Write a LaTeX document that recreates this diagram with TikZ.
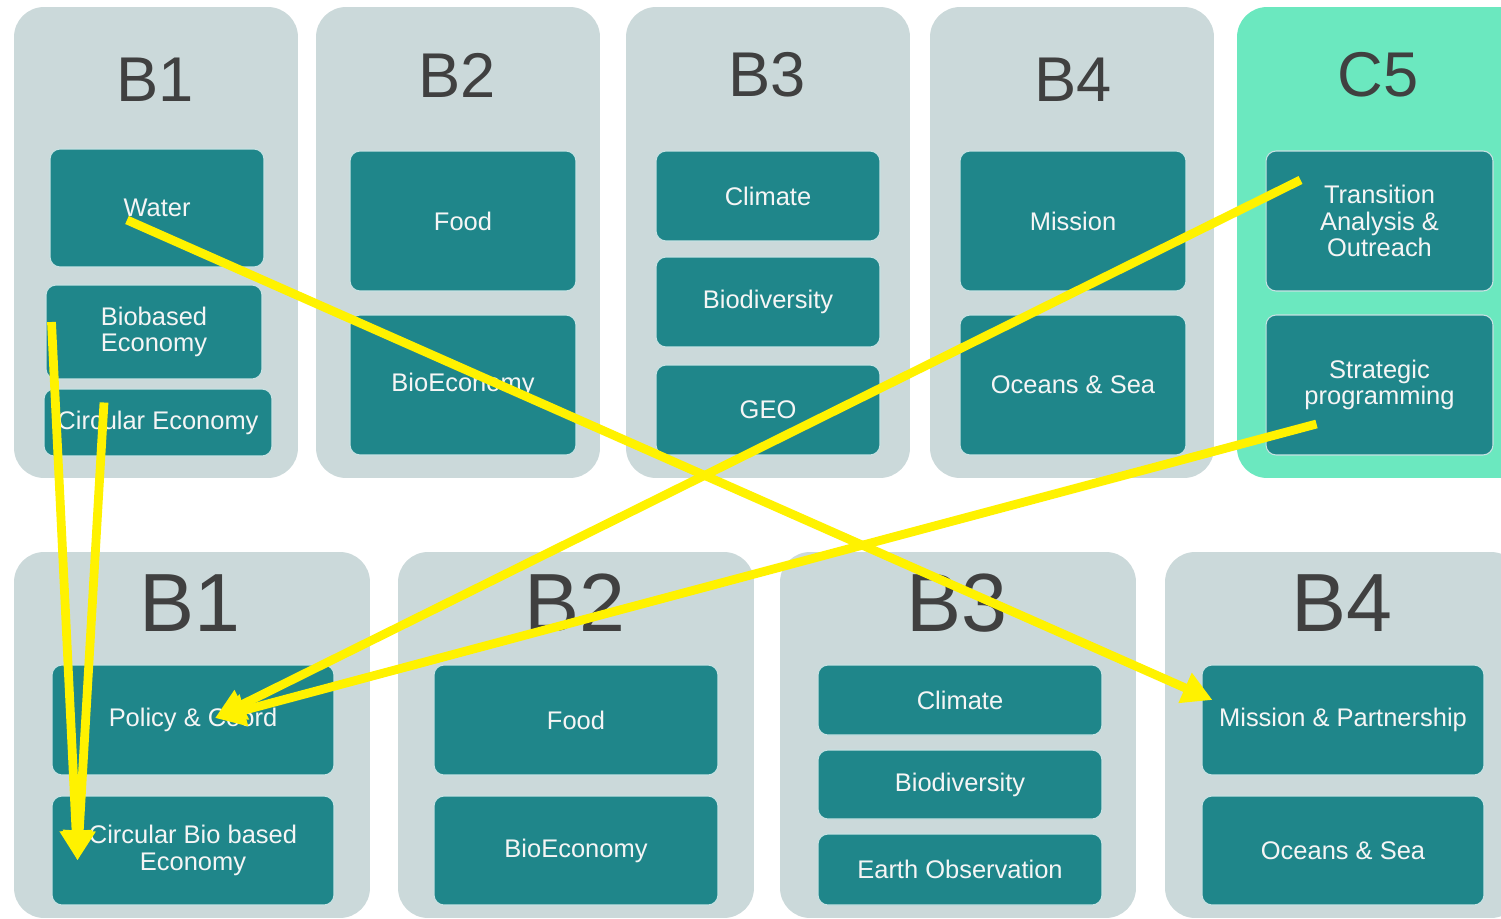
\documentclass[tikz,border=0pt]{standalone}
\usepackage{fontspec}
\setmainfont{Liberation Sans}
\usetikzlibrary{arrows.meta,calc}
\definecolor{panelgray}{HTML}{CBD9DA}
\definecolor{panelgreen}{HTML}{6BE8BF}
\definecolor{boxteal}{HTML}{1F868A}
\definecolor{titlegray}{HTML}{404040}

\begin{document}
\begin{tikzpicture}[x=0.02cm, y=-0.02cm,
  panel/.style={fill=panelgray, rounded corners=0.6cm, inner sep=0pt},
  toppanel/.style={panel, minimum width=5.68cm, minimum height=9.42cm},
  lowpanel/.style={panel, minimum width=7.12cm, minimum height=7.32cm},
  title/.style={text=titlegray, inner sep=0pt, font=\fontsize{36}{36}\selectfont},
  bigtitle/.style={title, font=\fontsize{47}{47}\selectfont},
  box/.style={fill=boxteal, draw=white!75!boxteal, line width=0.6pt,
    rounded corners=0.2cm, text=white!96!black, align=center, inner sep=0pt,
    font=\fontsize{14.5}{15}\selectfont},
  wide/.style={box, minimum width=4.52cm},
  flow/.style={draw=yellow, line width=5pt,
    -{Triangle[length=0.6cm, width=0.62cm]}}
]
\clip (0,0) rectangle (1501,919);
\fill[white] (0,0) rectangle (1501,919);

% upper row
\node[toppanel] (P1) at (156,242.5) {};
\node[toppanel] (P2) at (458,242.5) {};
\node[toppanel] (P3) at (768,242.5) {};
\node[toppanel] (P4) at (1072,242.5) {};
\node[toppanel, fill=panelgreen, minimum width=5.86cm] (P5) at (1383.5,242.5) {};
\node[title] (T1) at (155,80) {B1};
\node[title] (T2) at (457,75) {B2};
\node[title] (T3) at (767,75) {B3};
\node[title] (T4) at (1073,80) {B4};
\node[title] (T5) at (1378,75) {C5};

\node[box, minimum width=4.28cm, minimum height=2.36cm] (water) at (157,208) {Water};
\node[box, minimum width=4.32cm, minimum height=1.88cm] (biobased) at (154,332) {Biobased\\Economy};
\node[box, minimum width=4.56cm, minimum height=1.34cm] (circular) at (158,422.5) {Circular Economy};
\node[wide, minimum height=2.8cm] (food) at (463,221) {Food};
\node[wide, minimum height=2.8cm] (bioeco) at (463,385) {BioEconomy};
\node[box, minimum width=4.48cm, minimum height=1.8cm] (climate) at (768,196) {Climate};
\node[box, minimum width=4.48cm, minimum height=1.8cm] (biodiv) at (768,302) {Biodiversity};
\node[box, minimum width=4.48cm, minimum height=1.8cm] (geo) at (768,410) {GEO};
\node[wide, minimum height=2.8cm] (mission) at (1073,221) {Mission};
\node[wide, minimum height=2.8cm] (oceans) at (1073,385) {Oceans \& Sea};
\node[wide, minimum width=4.54cm, minimum height=2.8cm] (transition) at (1379.5,221) {Transition\\Analysis \&\\Outreach};
\node[wide, minimum width=4.54cm, minimum height=2.8cm] (strategic) at (1379.5,385) {Strategic\\programming};

% lower row
\node[lowpanel] (Q1) at (192,735) {};
\node[lowpanel] (Q2) at (576,735) {};
\node[lowpanel] (Q3) at (958,735) {};
\node[lowpanel] (Q4) at (1343,735) {};
\node[bigtitle] (U1) at (190,603) {B1};
\node[bigtitle] (U2) at (575,603) {B2};
\node[bigtitle] (U3) at (957,603) {B3};
\node[bigtitle] (U4) at (1342,603) {B4};

\node[box, minimum width=5.64cm, minimum height=2.2cm] (policy) at (193,720) {Policy \& Coord};
\node[box, minimum width=5.64cm, minimum height=2.18cm] (cbe) at (193,850.5) {Circular Bio based\\Economy};
\node[box, minimum width=5.68cm, minimum height=2.2cm] (food2) at (576,720) {Food};
\node[box, minimum width=5.68cm, minimum height=2.18cm] (bioeco2) at (576,850.5) {BioEconomy};
\node[box, minimum width=5.68cm, minimum height=1.4cm] (climate2) at (960,700) {Climate};
\node[box, minimum width=5.68cm, minimum height=1.38cm] (biodiv2) at (960,784.5) {Biodiversity};
\node[box, minimum width=5.68cm, minimum height=1.42cm] (eo) at (960,869.5) {Earth Observation};
\node[box, minimum width=5.64cm, minimum height=2.2cm] (partner) at (1343,720) {Mission \& Partnership};
\node[box, minimum width=5.64cm, minimum height=2.18cm] (oceans2) at (1343,850.5) {Oceans \& Sea};

% yellow arrows
\draw[flow] ($(water.center)+(-30,12)$) -- ($(partner.west)+(11,-20)$);
\draw[flow] ($(biobased.west)+(6,-10)$) -- ($(cbe.west)+(26,10)$);
\draw[flow] ($(circular.center)+(-54,-20)$) -- ($(cbe.west)+(26,10)$);
\draw[flow] ($(transition.center)+(-79,-41)$) -- ($(policy.center)+(22,-2)$);
\draw[flow] ($(strategic.center)+(-63,39)$) -- ($(policy.center)+(22,-2)$);
\end{tikzpicture}
\end{document}
